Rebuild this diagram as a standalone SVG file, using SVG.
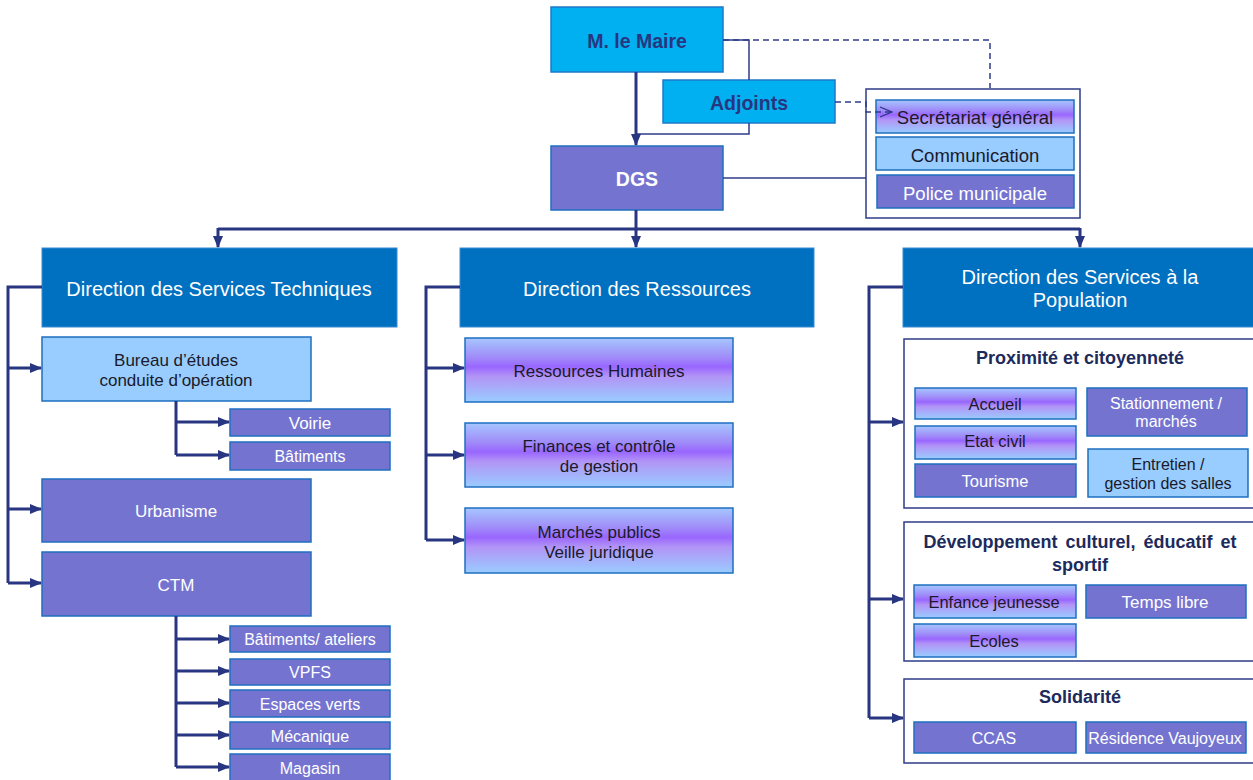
<svg xmlns="http://www.w3.org/2000/svg" width="1253" height="780" viewBox="0 0 1253 780">
<defs>
<linearGradient id="grad" x1="0" y1="0" x2="0" y2="1">
<stop offset="0" stop-color="#A6C6FF"/>
<stop offset="0.3" stop-color="#A08CF8"/>
<stop offset="0.45" stop-color="#9966FF"/>
<stop offset="0.6" stop-color="#B294F6"/>
<stop offset="1" stop-color="#99CCFF"/>
</linearGradient>
<marker id="arr" markerUnits="userSpaceOnUse" markerWidth="12" markerHeight="12" viewBox="0 0 12 12" refX="11" refY="6" orient="auto">
<path d="M0,1 L12,6 L0,11 Z" fill="#283580"/>
</marker>
<marker id="open" markerUnits="userSpaceOnUse" markerWidth="14" markerHeight="12" viewBox="0 0 14 12" refX="13" refY="6" orient="auto">
<path d="M1,1 L13,6 L1,11" fill="none" stroke="#283580" stroke-width="1.2"/>
</marker>
</defs>
<style>
text{font-family:"Liberation Sans",Arial,sans-serif;text-anchor:middle;dominant-baseline:central}
.top{fill:#00B0F0;stroke:#1E78C8;stroke-width:1.5}
.topt{font-size:19.5px;font-weight:bold;fill:#283580}
.pur{fill:#7474D0;stroke:#1E6FC0;stroke-width:1.5}
.lb{fill:#99CCFF;stroke:#1E6FC0;stroke-width:1.5}
.gr{fill:url(#grad);stroke:#1E6FC0;stroke-width:1.5}
.dir{fill:#0070C0;stroke:#3A8AD0;stroke-width:1}
.dirt{font-size:20px;fill:#FFFFFF}
.wt{font-size:17px;fill:#FFFFFF}
.dt{font-size:17px;fill:#1A1A2A}
.st{font-size:16px;fill:#FFFFFF}
.gw{font-size:16.5px;fill:#FFFFFF}
.gd{font-size:16.5px;fill:#1A1A2A}
.ct{font-size:18.5px}
.grp{fill:#FFFFFF;stroke:#2E3D8A;stroke-width:1.5}
.grpt{font-size:18px;font-weight:bold;fill:#1C2A5C}
.bus{fill:none;stroke:#283580;stroke-width:3}
.thin{fill:none;stroke:#2E3D8A;stroke-width:1.5}
.dash{fill:none;stroke:#2E3D8A;stroke-width:1.5;stroke-dasharray:6,4}
</style>

<g id="maire"><rect class="top" x="551" y="7" width="172" height="65"/><text class="topt" x="637" y="41">M. le Maire</text></g>
<g id="adjoints"><rect class="top" x="663" y="80" width="172" height="43"/><text class="topt" x="749" y="103">Adjoints</text></g>
<g id="dgs"><rect class="pur" x="551" y="146" width="172" height="64"/><text class="topt" style="fill:#FFFFFF" x="637" y="179">DGS</text></g>

<g id="cabinet">
<rect class="grp" x="866" y="89" width="214" height="129"/>
<g id="secretariat"><rect class="gr" x="876" y="100" width="198" height="33"/><text class="ct" style="fill:#1A1A2A" x="975" y="117">Secrétariat général</text></g>
<g id="communication"><rect class="lb" x="876" y="137" width="198" height="33"/><text class="ct" style="fill:#1A1A2A" x="975" y="155">Communication</text></g>
<g id="police"><rect class="pur" x="877" y="175" width="197" height="33"/><text class="ct" style="fill:#FFFFFF" x="975" y="193">Police municipale</text></g>
</g>

<g id="dst"><rect class="dir" x="42" y="248" width="355" height="79"/><text class="dirt" x="219" y="289">Direction des Services Techniques</text></g>
<g id="dr"><rect class="dir" x="460" y="248" width="354" height="79"/><text class="dirt" x="637" y="289">Direction des Ressources</text></g>
<g id="dsp"><rect class="dir" x="903" y="248" width="352" height="79"/><text class="dirt" x="1080" y="277">Direction des Services à la</text><text class="dirt" x="1080" y="300">Population</text></g>

<g id="bureau"><rect class="lb" x="42" y="337" width="269" height="64"/><text class="dt" x="176" y="360">Bureau d’études</text><text class="dt" x="176" y="380">conduite d’opération</text></g>
<g id="voirie"><rect class="pur" x="230" y="409" width="160" height="27"/><text class="wt" x="310" y="423">Voirie</text></g>
<g id="batiments"><rect class="pur" x="230" y="442" width="160" height="28"/><text class="st" x="310" y="456">Bâtiments</text></g>
<g id="urbanisme"><rect class="pur" x="42" y="479" width="269" height="63"/><text class="wt" x="176" y="511">Urbanisme</text></g>
<g id="ctm"><rect class="pur" x="42" y="552" width="269" height="64"/><text class="wt" x="176" y="585">CTM</text></g>
<g id="ateliers"><rect class="pur" x="230" y="626" width="160" height="26"/><text class="st" x="310" y="639">Bâtiments/ ateliers</text></g>
<g id="vpfs"><rect class="pur" x="230" y="659" width="160" height="26"/><text class="st" x="310" y="672">VPFS</text></g>
<g id="espaces"><rect class="pur" x="230" y="690" width="160" height="27"/><text class="st" x="310" y="704">Espaces verts</text></g>
<g id="mecanique"><rect class="pur" x="230" y="722" width="160" height="27"/><text class="st" x="310" y="736">Mécanique</text></g>
<g id="magasin"><rect class="pur" x="230" y="754" width="160" height="30"/><text class="st" x="310" y="768">Magasin</text></g>

<g id="rh"><rect class="gr" x="465" y="338" width="268" height="64"/><text class="dt" x="599" y="371">Ressources Humaines</text></g>
<g id="finances"><rect class="gr" x="465" y="423" width="268" height="64"/><text class="dt" x="599" y="446">Finances et contrôle</text><text class="dt" x="599" y="466">de gestion</text></g>
<g id="marches"><rect class="gr" x="465" y="508" width="268" height="65"/><text class="dt" x="599" y="532">Marchés publics</text><text class="dt" x="599" y="552">Veille juridique</text></g>

<g id="proximite">
<rect class="grp" x="904" y="339" width="352" height="169"/>
<text class="grpt" x="1080" y="358">Proximité et citoyenneté</text>
<g id="accueil"><rect class="gr" x="915" y="388" width="161" height="31"/><text class="gd" x="995" y="404">Accueil</text></g>
<g id="etatcivil"><rect class="gr" x="915" y="426" width="161" height="33"/><text class="gd" x="995" y="441">Etat civil</text></g>
<g id="tourisme"><rect class="pur" x="915" y="464" width="161" height="33"/><text class="gw" x="995" y="481">Tourisme</text></g>
<g id="stationnement"><rect class="pur" x="1087" y="388" width="160" height="48"/><text class="st" x="1166" y="403">Stationnement /</text><text class="st" x="1166" y="421">marchés</text></g>
<g id="entretien"><rect class="lb" x="1088" y="449" width="160" height="48"/><text class="gd" style="font-size:16px" x="1168" y="464">Entretien /</text><text class="gd" style="font-size:16px" x="1168" y="483">gestion des salles</text></g>
</g>

<g id="developpement">
<rect class="grp" x="904" y="522" width="352" height="139"/>
<text class="grpt" x="1080" y="542" style="word-spacing:3px">Développement culturel, éducatif et</text>
<text class="grpt" x="1080" y="565">sportif</text>
<g id="enfance"><rect class="gr" x="914" y="585" width="162" height="33"/><text class="gd" x="994" y="602">Enfance jeunesse</text></g>
<g id="tempslibre"><rect class="pur" x="1086" y="585" width="160" height="33"/><text class="wt" x="1165" y="602">Temps libre</text></g>
<g id="ecoles"><rect class="gr" x="914" y="624" width="162" height="33"/><text class="gd" x="994" y="641">Ecoles</text></g>
</g>

<g id="solidarite">
<rect class="grp" x="904" y="679" width="352" height="84"/>
<text class="grpt" x="1080" y="697">Solidarité</text>
<g id="ccas"><rect class="pur" x="914" y="722" width="162" height="31"/><text class="st" x="994" y="738">CCAS</text></g>
<g id="residence"><rect class="pur" x="1086" y="722" width="160" height="31"/><text class="st" x="1165" y="738">Résidence Vaujoyeux</text></g>
</g>

<g id="connectors">
<path class="thin" d="M723,40 H749 V80"/>
<path class="thin" d="M749,123 V134 H636"/>
<path class="dash" d="M723,40 H990 V88"/>
<path class="dash" d="M835,102 H866 V112 H892" marker-end="url(#open)"/>
<path class="thin" d="M723,178 H866"/>
<path class="bus" d="M636,72 V145" marker-end="url(#arr)"/>
<path class="bus" d="M636,210 V229"/>
<path class="bus" d="M218,229 H1080"/>
<path class="bus" d="M218,228 V247" marker-end="url(#arr)"/>
<path class="bus" d="M636,229 V247" marker-end="url(#arr)"/>
<path class="bus" d="M1080,228 V247" marker-end="url(#arr)"/>
<path class="bus" d="M42,287 H8 V583"/>
<path class="bus" d="M8,368 H41" marker-end="url(#arr)"/>
<path class="bus" d="M8,509 H41" marker-end="url(#arr)"/>
<path class="bus" d="M8,583 H41" marker-end="url(#arr)"/>
<path class="bus" d="M176,401 V455"/>
<path class="bus" d="M176,422 H229" marker-end="url(#arr)"/>
<path class="bus" d="M176,455 H229" marker-end="url(#arr)"/>
<path class="bus" d="M176,616 V767"/>
<path class="bus" d="M176,639 H229" marker-end="url(#arr)"/>
<path class="bus" d="M176,671 H229" marker-end="url(#arr)"/>
<path class="bus" d="M176,703 H229" marker-end="url(#arr)"/>
<path class="bus" d="M176,735 H229" marker-end="url(#arr)"/>
<path class="bus" d="M176,767 H229" marker-end="url(#arr)"/>
<path class="bus" d="M460,287 H426 V540"/>
<path class="bus" d="M426,368 H464" marker-end="url(#arr)"/>
<path class="bus" d="M426,455 H464" marker-end="url(#arr)"/>
<path class="bus" d="M426,540 H464" marker-end="url(#arr)"/>
<path class="bus" d="M903,287 H869 V718"/>
<path class="bus" d="M869,422 H903" marker-end="url(#arr)"/>
<path class="bus" d="M869,599 H903" marker-end="url(#arr)"/>
<path class="bus" d="M869,718 H903" marker-end="url(#arr)"/>
</g>
</svg>
